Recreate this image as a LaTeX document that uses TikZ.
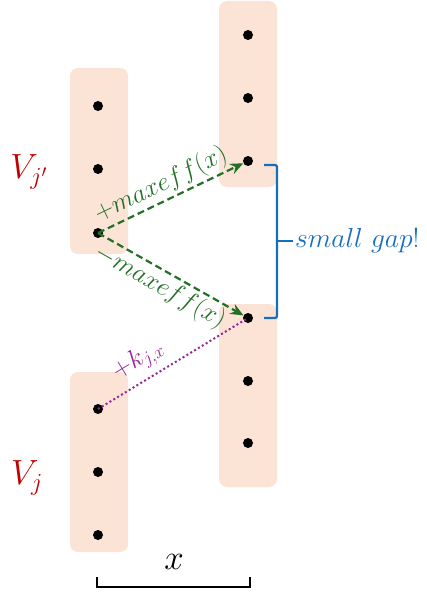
\RequirePackage{fix-cm}
\documentclass[tikz,border=0pt]{standalone}
\usetikzlibrary{arrows.meta}
\definecolor{peach}{RGB}{251,227,214}
\definecolor{dgreen}{RGB}{34,112,38}
\definecolor{dpurple}{RGB}{148,38,150}
\definecolor{bblue}{RGB}{22,110,190}
\definecolor{dred}{RGB}{192,0,0}
\tikzset{
  grp/.style={fill=peach, rounded corners=8pt},
  dot/.style={circle, fill=black, inner sep=0pt, minimum size=10pt},
  garrow/.style={dgreen, line width=2.2pt, dash pattern=on 7pt off 4pt, -{Stealth[length=13pt,width=11pt]}},
  parrow/.style={dpurple, line width=2pt, dash pattern=on 2pt off 2.5pt},
  glabel/.style={text=dgreen, font=\fontsize{26}{30}\selectfont, inner sep=2pt},
  brace/.style={bblue, line width=2.2pt, rounded corners=2pt},
}
\begin{document}
\begin{tikzpicture}[x=1pt,y=-1pt]
\useasboundingbox (0,0) rectangle (426,594);
% groups
\fill[grp] (70,68) rectangle (128,254);
\fill[grp] (70,372) rectangle (128,552);
\fill[grp] (219,1) rectangle (277,187);
\fill[grp] (219,304) rectangle (277,487);
% dots
\node[dot] (a1) at (98,106) {};
\node[dot] (a2) at (98,169) {};
\node[dot] (a3) at (98,233) {};
\node[dot] (c1) at (98,409) {};
\node[dot] (c2) at (98,472) {};
\node[dot] (c3) at (98,535) {};
\node[dot] (b1) at (248,35) {};
\node[dot] (b2) at (248,98) {};
\node[dot] (b3) at (248,161) {};
\node[dot] (d1) at (248,318) {};
\node[dot] (d2) at (248,381) {};
\node[dot] (d3) at (248,443) {};
% labels
\node[text=dred, font=\fontsize{35}{40}\selectfont] (vj1) at (29,172) {$V_{j'}$};
\node[text=dred, font=\fontsize{35}{40}\selectfont] (vj) at (27,478) {$V_j$};
% arrows
\draw[garrow] (a3.center) -- (b3) node[glabel, midway, above, sloped, xshift=-3pt] {$+maxeff(x)$};
\draw[garrow] (a3.center) -- (d1) node[glabel, midway, below, sloped, xshift=-3pt] {$-maxeff(x)$};
\draw[parrow] (c1.center) -- (d1.center) node[text=dpurple, font=\fontsize{26}{30}\selectfont, pos=0.34, above, sloped, inner sep=7pt] {$+k_{j,x}$};
% small gap brace
\coordinate (gt) at (264,165);
\coordinate (gb) at (264,318);
\coordinate (gm) at (277,241);
\draw[brace] (gt) -| (gm) |- (gb);
\draw[brace] (gm) -- ++(16,0) coordinate (gn);
\node[anchor=west, text=bblue, font=\fontsize{27.5}{32}\selectfont, inner sep=2pt] (gap) at (gn) {$small\ gap!$};
% bottom bracket
\coordinate (xl) at (97,577);
\coordinate (xr) at (250,577);
\draw[line width=1.6pt] (xl) -- ++(0,10) -- ++(153,0) -- (xr);
\node[font=\fontsize{35}{40}\selectfont] (xlab) at (174,562) {$x$};
\end{tikzpicture}
\end{document}
